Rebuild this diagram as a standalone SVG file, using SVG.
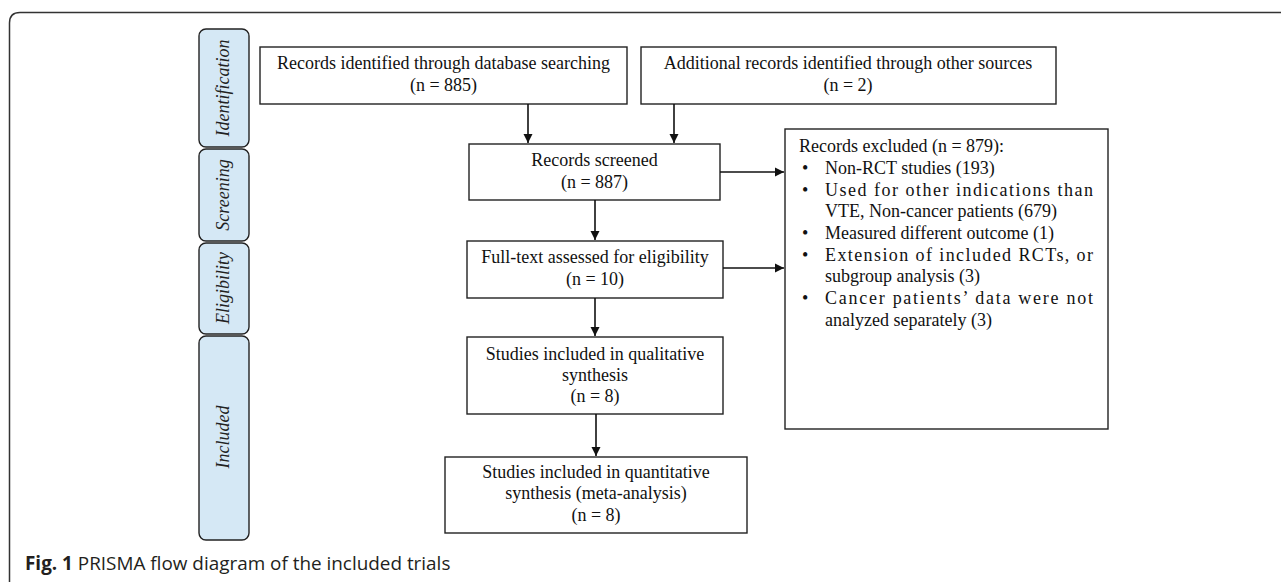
<svg xmlns="http://www.w3.org/2000/svg" width="1281" height="582" viewBox="0 0 1281 582">
<style>
.box{fill:#fff;stroke:#222;stroke-width:1.4}
.side{fill:#d5e8f5;stroke:#222;stroke-width:1.4}
.t{font-family:"Liberation Serif","Times New Roman",serif;font-size:18px;fill:#111;text-anchor:middle}
.ts{font-family:"Liberation Serif","Times New Roman",serif;font-size:18px;font-style:italic;fill:#222;text-anchor:middle}
.ex{font-family:"Liberation Serif","Times New Roman",serif;font-size:18px;fill:#111}
.cap{font-family:"Open Sans","Noto Sans",sans-serif;font-size:18.9px;fill:#231f20}
.conn{stroke:#111;stroke-width:1.6;fill:none}
</style>
<defs>
<marker id="ah" markerWidth="10" markerHeight="10" refX="9" refY="5" orient="auto" markerUnits="userSpaceOnUse">
<path d="M0,0.5 L9,5 L0,9.5 Z" fill="#111"/>
</marker>
</defs>
<rect width="1281" height="582" fill="#fff"/>
<path d="M9.5,600 L9.5,23 Q9.5,12.5 20,12.5 L1290,12.5" fill="none" stroke="#333" stroke-width="1.5"/>

<g id="side-identification">
<rect class="side" x="199" y="29" width="50" height="118" rx="7"/>
<text class="ts" transform="translate(229,88) rotate(-90)">Identification</text>
</g>
<g id="side-screening">
<rect class="side" x="199" y="149" width="50" height="92" rx="7"/>
<text class="ts" transform="translate(229,195) rotate(-90)">Screening</text>
</g>
<g id="side-eligibility">
<rect class="side" x="199" y="243" width="50" height="91" rx="7"/>
<text class="ts" transform="translate(229,288) rotate(-90)">Eligibility</text>
</g>
<g id="side-included">
<rect class="side" x="199" y="336" width="50" height="204" rx="7"/>
<text class="ts" transform="translate(229,437) rotate(-90)">Included</text>
</g>

<g id="db">
<rect class="box" x="260" y="47" width="367" height="57"/>
<text class="t" x="443.5" y="69">Records identified through database searching</text>
<text class="t" x="443.5" y="91">(n = 885)</text>
</g>
<g id="other">
<rect class="box" x="641" y="47" width="415" height="57"/>
<text class="t" x="848" y="69">Additional records identified through other sources</text>
<text class="t" x="848" y="91">(n = 2)</text>
</g>
<g id="screened">
<rect class="box" x="469" y="144" width="251" height="56"/>
<text class="t" x="594.5" y="166">Records screened</text>
<text class="t" x="594.5" y="188">(n = 887)</text>
</g>
<g id="fulltext">
<rect class="box" x="467" y="241" width="256" height="57"/>
<text class="t" x="595" y="263">Full-text assessed for eligibility</text>
<text class="t" x="595" y="285">(n = 10)</text>
</g>
<g id="qualitative">
<rect class="box" x="467" y="337" width="256" height="77"/>
<text class="t" x="595" y="360">Studies included in qualitative</text>
<text class="t" x="595" y="381">synthesis</text>
<text class="t" x="595" y="402">(n = 8)</text>
</g>
<g id="quantitative">
<rect class="box" x="445" y="457" width="302" height="76"/>
<text class="t" x="596" y="478">Studies included in quantitative</text>
<text class="t" x="596" y="499">synthesis (meta-analysis)</text>
<text class="t" x="596" y="521">(n = 8)</text>
</g>
<g id="excluded">
<rect class="box" x="785" y="129" width="323" height="300"/>
<text class="ex" x="799" y="152">Records excluded (n = 879):</text>
<text class="ex" x="802" y="174">•</text>
<text class="ex" x="825" y="174">Non-RCT studies (193)</text>
<text class="ex" x="802" y="196">•</text>
<text class="ex" x="825" y="196" textLength="268" lengthAdjust="spacing">Used for other indications than</text>
<text class="ex" x="825" y="217">VTE, Non-cancer patients (679)</text>
<text class="ex" x="802" y="239">•</text>
<text class="ex" x="825" y="239">Measured different outcome (1)</text>
<text class="ex" x="802" y="261">•</text>
<text class="ex" x="825" y="261" textLength="268" lengthAdjust="spacing">Extension of included RCTs, or</text>
<text class="ex" x="825" y="282">subgroup analysis (3)</text>
<text class="ex" x="802" y="304">•</text>
<text class="ex" x="825" y="304" textLength="268" lengthAdjust="spacing">Cancer patients’ data were not</text>
<text class="ex" x="825" y="326">analyzed separately (3)</text>
</g>

<g id="connectors">
<line class="conn" x1="528" y1="104" x2="528" y2="143" marker-end="url(#ah)"/>
<line class="conn" x1="674" y1="104" x2="674" y2="143" marker-end="url(#ah)"/>
<line class="conn" x1="595" y1="200" x2="595" y2="240" marker-end="url(#ah)"/>
<line class="conn" x1="595" y1="298" x2="595" y2="336" marker-end="url(#ah)"/>
<line class="conn" x1="596" y1="414" x2="596" y2="456" marker-end="url(#ah)"/>
<line class="conn" x1="720" y1="172" x2="784" y2="172" marker-end="url(#ah)"/>
<line class="conn" x1="723" y1="268" x2="784" y2="268" marker-end="url(#ah)"/>
</g>

<text class="cap" x="25" y="570"><tspan font-weight="bold">Fig. 1</tspan> PRISMA flow diagram of the included trials</text>
</svg>
